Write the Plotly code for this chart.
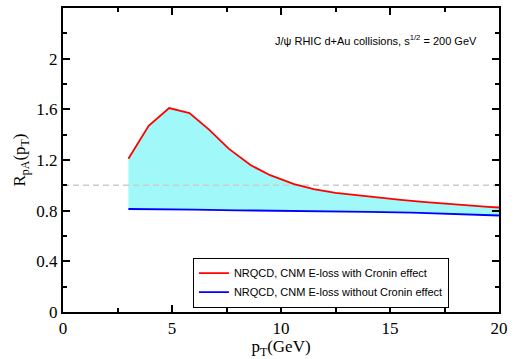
import plotly.graph_objects as go

# Data
pt_red = [3.0, 3.93, 4.87, 5.8, 6.7, 7.6, 8.6, 9.5, 10.6, 11.5, 12.5, 13.5, 14.5, 15.5, 16.5, 17.5, 18.5, 19.5, 20.0]
r_red = [1.21, 1.47, 1.61, 1.57, 1.44, 1.29, 1.16, 1.08, 1.01, 0.97, 0.94, 0.92, 0.90, 0.885, 0.87, 0.855, 0.845, 0.83, 0.825]
pt_blue = [3.0, 5.0, 6.0, 8.0, 10.0, 12.0, 14.0, 16.0, 17.0, 19.0, 20.0]
r_blue = [0.813, 0.812, 0.808, 0.803, 0.800, 0.795, 0.790, 0.785, 0.778, 0.770, 0.762]
ref_x = [0, 20]
ref_y = [1.0, 1.0]

fig = go.Figure()
# fill region
fig.add_trace(go.Scatter(x=pt_blue, y=r_blue, mode="lines", line=dict(width=0, color="blue"),
                         showlegend=False, hoverinfo="skip"))
fig.add_trace(go.Scatter(x=pt_red, y=r_red, mode="lines", line=dict(width=0, color="red"),
                         fill="tonexty", fillcolor="#a0f8f8", showlegend=False, hoverinfo="skip"))
# reference dashed line
fig.add_trace(go.Scatter(x=ref_x, y=ref_y, mode="lines",
                         line=dict(color="#cccccc", width=1.5, dash="6px,4px"), showlegend=False))
# curves
fig.add_trace(go.Scatter(x=pt_red, y=r_red, mode="lines", line=dict(color="red", width=1.8),
                         name="NRQCD, CNM E-loss with Cronin effect"))
fig.add_trace(go.Scatter(x=pt_blue, y=r_blue, mode="lines", line=dict(color="blue", width=1.8),
                         name="NRQCD, CNM E-loss without Cronin effect"))

serif = "Liberation Serif, Times New Roman, serif"
axis_common = dict(showline=True, linecolor="black", linewidth=2, mirror="ticks",
                   ticks="inside", ticklen=7, tickwidth=1.5, tickcolor="black",
                   showgrid=False, zeroline=False,
                   tickfont=dict(family=serif, size=17, color="black"))

fig.update_layout(
    width=514, height=359,
    margin=dict(l=63, r=11, t=6, b=45),
    plot_bgcolor="white", paper_bgcolor="white",
    xaxis=dict(range=[0, 20], tickvals=[0, 5, 10, 15, 20],
               minor=dict(tickvals=[2.5, 7.5, 12.5, 17.5], ticks="inside", ticklen=4, tickwidth=1.5, tickcolor="black"),
               title=dict(text="p<sub>T</sub>(GeV)", font=dict(family=serif, size=17, color="black"), standoff=3),
               **axis_common),
    yaxis=dict(range=[0, 2.4], tickvals=[0, 0.4, 0.8, 1.2, 1.6, 2.0], ticktext=["0", "0.4", "0.8", "1.2", "1.6", "2"],
               minor=dict(tickvals=[0.2, 0.6, 1.0, 1.4, 1.8, 2.2], ticks="inside", ticklen=4, tickwidth=1.5, tickcolor="black"),
               title=dict(text="R<sub>pA</sub>(p<sub>T</sub>)", font=dict(family=serif, size=17, color="black"), standoff=6),
               **axis_common),
    legend=dict(x=0.298, y=0.179, xanchor="left", yanchor="top", traceorder="normal",
                bordercolor="black", borderwidth=1, bgcolor="white",
                font=dict(family="Liberation Sans, Arial, sans-serif", size=11, color="black"),
                itemwidth=30, tracegroupgap=0),
    annotations=[dict(x=0.955, y=0.895, xref="paper", yref="paper", xanchor="right", yanchor="middle",
                      showarrow=False,
                      text="J/ψ RHIC d+Au collisions, s<sup>1/2</sup> = 200 GeV",
                      font=dict(family="Liberation Sans, Arial, sans-serif", size=11, color="black"))],
)

fig.write_html("out.html")
